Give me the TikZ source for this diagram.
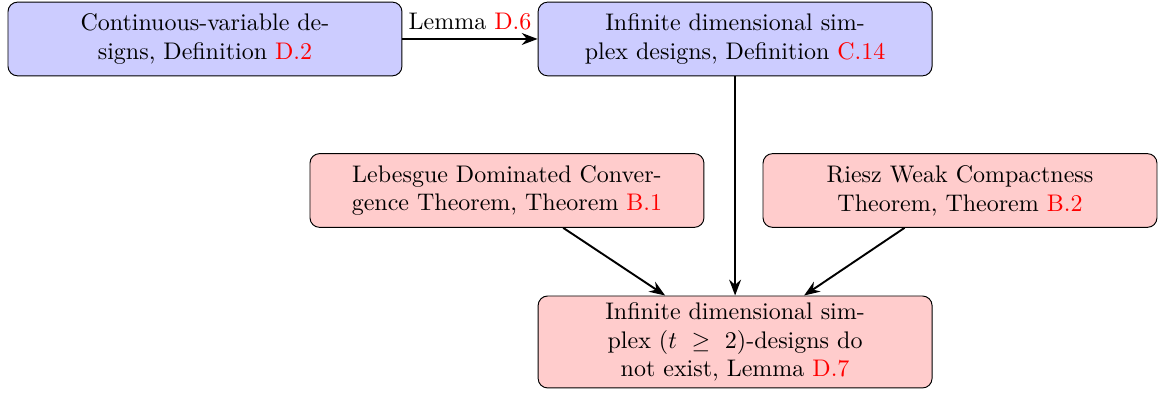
\documentclass[tikz,border=0pt]{standalone}
\usepackage{amsmath,amssymb}
\usepackage{tikz}
\usetikzlibrary{arrows.meta,positioning}

\begin{document}
\begin{tikzpicture}[
  box/.style={draw, rounded corners=4pt, align=center, inner sep=2.5pt,
    minimum width=5.77cm, minimum height=1.08cm},
  arr/.style={-{Stealth}, thick}
]
\useasboundingbox (-3.002,-5.214) rectangle (14.002,0.571);
\node[box, fill=blue!20] (cvd) {Continuous-variable de-\\signs, Definition \textcolor{red}{D.2}};
\node[box, fill=blue!20, right=1.98cm of cvd] (simp) {Infinite dimensional sim-\\plex designs, Definition \textcolor{red}{C.14}};
\node[box, fill=red!20, minimum height=1.347cm, below=3.21cm of simp] (nogo)
  {Infinite dimensional sim-\\plex $(t\ \geq\ 2)$-designs do\\not exist, Lemma \textcolor{red}{D.7}};
\node[box, fill=red!20] (ldc) at (4.423,-2.219) {Lebesgue Dominated Conver-\\gence Theorem, Theorem \textcolor{red}{B.1}};
\node[box, fill=red!20] (rwc) at (11.058,-2.219) {Riesz Weak Compactness\\Theorem, Theorem \textcolor{red}{B.2}};
\draw[arr] (cvd)--(simp) node[midway, above] {Lemma \textcolor{red}{D.6}};
\draw[arr] (simp)--(nogo);
\draw[arr] (ldc)--(nogo); \draw[arr] (rwc)--(nogo);
\end{tikzpicture}
\end{document}
